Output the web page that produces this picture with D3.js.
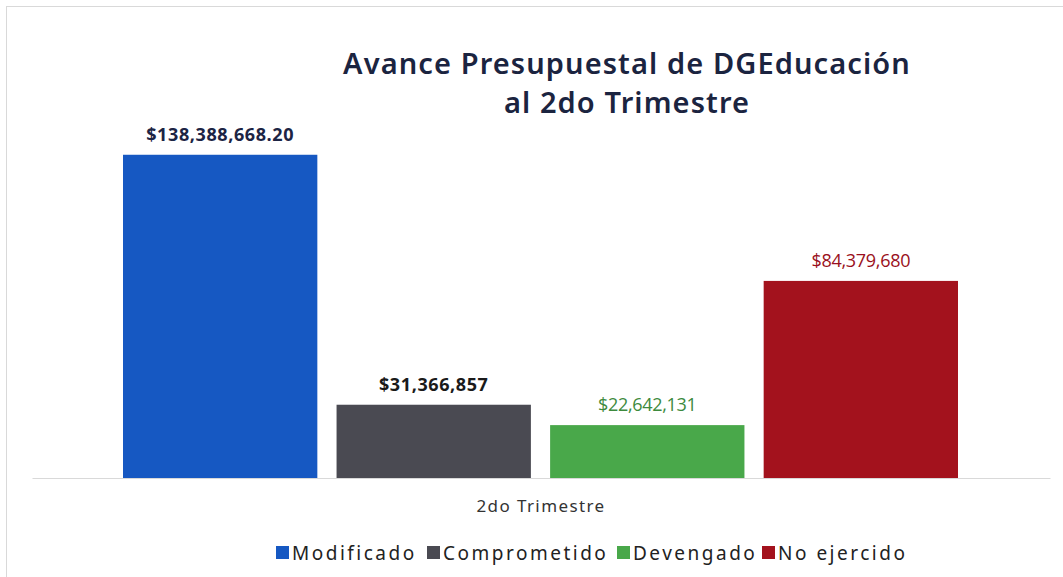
<!DOCTYPE html>
<html>
<head>
<meta charset="utf-8">
<script src="https://cdn.jsdelivr.net/npm/d3@7"></script>
<style>
  body { margin: 0; background: #fff; }
</style>
</head>
<body>
<script>
// data
var category = "2do Trimestre";
var seriesNames = ["Modificado", "Comprometido", "Devengado", "No ejercido"];
var seriesValues = [138388668.20, 31366857, 22642131, 84379680];
var valueLabels = ["$138,388,668.20", "$31,366,857", "$22,642,131", "$84,379,680"];
var barColors = ["#1658c2", "#4a4a52", "#49a84a", "#a3121d"];
var labelColors = ["#1c2444", "#1a1a1a", "#3d8a3d", "#9a1020"];

var w = 1063;
var h = 577;

var svg = d3.select("body")
			.append("svg")
			.attr("width", w)
			.attr("height", h);

svg.append("rect")
		.attr("x", 6.5)
		.attr("y", 6.5)
		.attr("width", w - 4)
		.attr("height", h - 4)
		.attr("fill", "#fff")
		.attr("stroke", "#d9d9d9");

var x0 = d3.scaleBand()
			.domain([category])
			.range([32, 1050]);

var x1 = d3.scaleBand()
			.domain(seriesNames)
			.range([123, 958])
			.paddingInner(0.09);

var yScale = d3.scaleLinear()
				.domain([0, 140000000])
				.range([478, 151]);

// title
var title = svg.append("text")
		.attr("text-anchor", "middle")
		.attr("font-family", "'Noto Sans', sans-serif")
		.attr("font-weight", 600)
		.attr("font-size", 29)
		.attr("letter-spacing", 1.1)
		.attr("fill", "#1b2440");
title.append("tspan").attr("x", 627).attr("y", 74).text("Avance Presupuestal de DGEducación");
title.append("tspan").attr("x", 627).attr("y", 113).text("al 2do Trimestre");

// bars
var data = seriesNames.map(function(d, i){
	return {name: d, value: seriesValues[i], label: valueLabels[i], color: barColors[i], lc: labelColors[i]};
});

svg.selectAll(".bar")
		.data(data)
		.enter()
		.append("rect")
		.attr("class", "bar")
		.attr("x", function(d){ return x1(d.name); })
		.attr("y", function(d){ return yScale(d.value); })
		.attr("width", x1.bandwidth())
		.attr("height", function(d){ return yScale(0) - yScale(d.value); })
		.attr("fill", function(d){ return d.color; });

svg.selectAll(".vlabel")
		.data(data)
		.enter()
		.append("text")
		.attr("class", "vlabel")
		.attr("x", function(d){ return x1(d.name) + x1.bandwidth()/2; })
		.attr("y", function(d){ return yScale(d.value) - 14; })
		.attr("text-anchor", "middle")
		.attr("font-family", "'Open Sans', sans-serif")
		.attr("font-weight", function(d, i){ return i < 2 ? 700 : 400; })
		.attr("font-size", 18)
		.attr("letter-spacing", function(d, i){ return i < 2 ? 0.6 : -0.3; })
		.attr("fill", function(d){ return d.lc; })
		.text(function(d){ return d.label; });

// axis
var xAxis = d3.axisBottom(x0).tickSize(0).tickPadding(22);
var gx = svg.append("g")
		.attr("class", "xaxis")
		.attr("transform", "translate(0," + yScale(0) + ")")
		.call(xAxis);
gx.select(".domain").attr("stroke", "#d9d9d9");
gx.selectAll("text")
		.attr("font-family", "'Noto Sans', sans-serif")
		.attr("font-size", 17)
		.attr("letter-spacing", 1.4)
		.attr("fill", "#333");

// legend
var legendX = [276, 427, 617, 762];
var legend = svg.selectAll(".legend")
		.data(data)
		.enter()
		.append("g")
		.attr("class", "legend")
		.attr("transform", function(d, i){ return "translate(" + legendX[i] + ",546)"; });

legend.append("rect")
		.attr("width", 13)
		.attr("height", 13)
		.attr("fill", function(d){ return d.color; });

legend.append("text")
		.attr("x", 16)
		.attr("y", 14)
		.attr("font-family", "'Noto Sans', sans-serif")
		.attr("font-size", 19)
		.attr("letter-spacing", 2.5)
		.attr("fill", "#222")
		.text(function(d){ return d.name; });
</script>
</body>
</html>
